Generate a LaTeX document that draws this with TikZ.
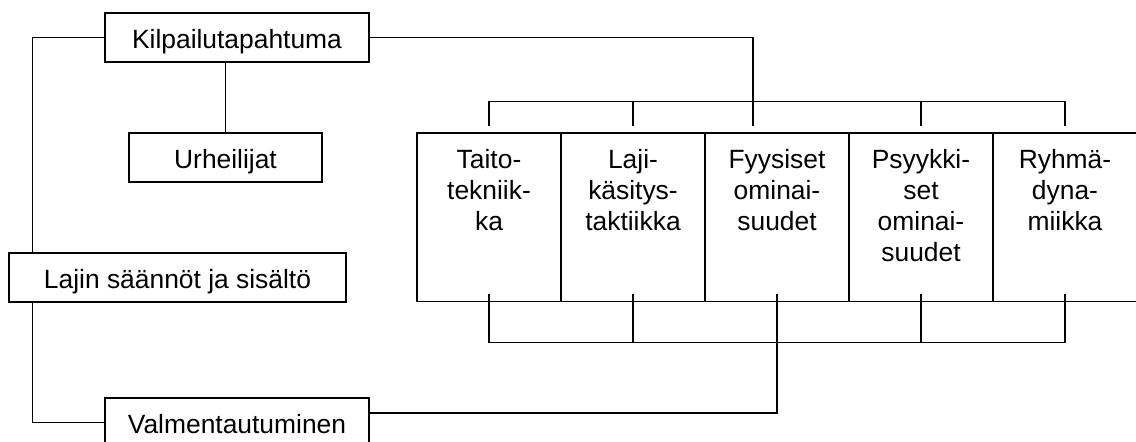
\documentclass[tikz,border=0pt]{standalone}
\usepackage{fontspec}
\setmainfont{Liberation Sans}
\usetikzlibrary{calc}
\begin{document}
\begin{tikzpicture}[x=1pt,y=-1pt,line width=1.3pt,
  labelbox/.style={draw,rectangle,inner sep=0pt,minimum height=49pt,
    font=\fontsize{26.4}{31}\selectfont,text height=21pt,text depth=0pt},
  colbox/.style={draw,rectangle,inner sep=0pt,minimum width=144pt,minimum height=168.5pt},
  coltext/.style={anchor=north,inner sep=0pt,align=center,
    font=\fontsize{26.4}{31}\selectfont}]
\useasboundingbox (0,0) rectangle (1136,442);

% left-hand chain of boxes
\node[labelbox,minimum width=264pt] (kil) at (237,37.5) {Kilpailutapahtuma};
\node[labelbox,minimum width=193pt] (urh) at (225.5,157.5) {Urheilijat};
\node[labelbox,minimum width=337pt] (laj) at (177.5,277.5) {Lajin säännöt ja sisältö};
\node[labelbox,minimum width=264pt] (val) at (237,422.5) {Valmentautuminen};

% row of five component boxes
\foreach \n/\cx in {c1/489,c2/633,c3/777,c4/921,c5/1065}
  \node[colbox] (\n) at (\cx,217.25) {};
\node[coltext] (t1) at ($(c1.north)+(0,16)$) {Taito-\\tekniik-\\ka};
\node[coltext] (t2) at ($(c2.north)+(0,16)$) {Laji-\\käsitys-\\taktiikka};
\node[coltext] (t3) at ($(c3.north)+(0,16)$) {Fyysiset\\ominai-\\suudet};
\node[coltext] (t4) at ($(c4.north)+(0,16)$) {Psyykki-\\set\\ominai-\\suudet};
\node[coltext] (t5) at ($(c5.north)+(0,16)$) {Ryhmä-\\dyna-\\miikka};

% connectors on the left
\coordinate (ltop) at ($(laj.north west)+(24,0)$);
\coordinate (lbot) at ($(laj.south west)+(24,0)$);
\draw (kil.west) -| (ltop);
\draw (lbot) |- (val.west);
\draw (kil.south -| urh.north) -- (urh.north);

% upper bracket
\coordinate (feed) at ($(c3.north)+(-24,-6)$);
\draw (kil.east) -| (feed);
\draw ($(c1.north)+(0,-6)$) |- ($(c3.north)+(0,-31)$) -| ($(c5.north)+(0,-6)$);
\foreach \n in {c2,c4}
  \draw ($(\n.north)+(0,-31)$) -- ($(\n.north)+(0,-6)$);

% lower bracket
\draw ($(c1.south)+(0,-8)$) |- ($(c3.south)+(0,40.5)$) -| ($(c5.south)+(0,-8)$);
\foreach \n in {c2,c3,c4}
  \draw ($(\n.south)+(0,-8)$) -- ($(\n.south)+(0,40.5)$);
\draw ($(c3.south)+(0,40.5)$) |- ($(val.east)+(0,-9.5)$);
\end{tikzpicture}
\end{document}
